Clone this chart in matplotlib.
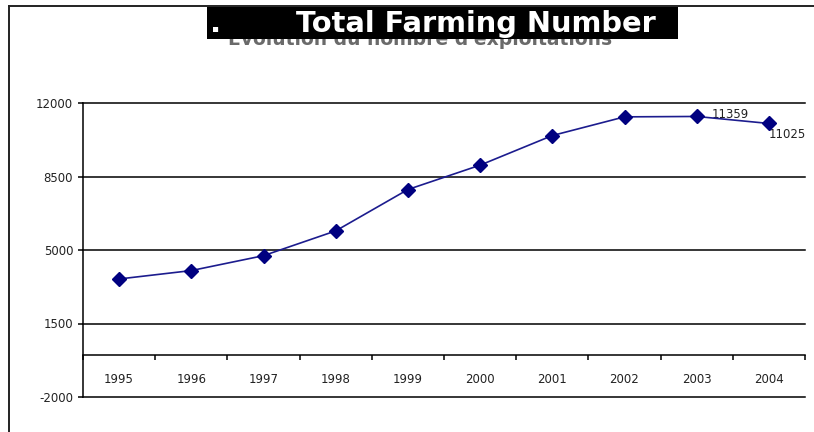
import matplotlib
matplotlib.use("Agg")
import matplotlib.pyplot as plt
from matplotlib.patches import Rectangle
from matplotlib.lines import Line2D
import numpy as np

plt.rcParams['axes.unicode_minus'] = False
plt.rcParams['font.family'] = ['DejaVu Sans']

# farms per year
years = ['1995', '1996', '1997', '1998', '1999', '2000', '2001', '2002', '2003', '2004']
farms = [3620, 4020, 4730, 5910, 7880, 9040, 10450, 11340, 11359, 11025]
y_ticks = [-2000, 1500, 5000, 8500, 12000]

W, H = 814, 432
fig = plt.figure(figsize=(W / 100, H / 100), dpi=100)
fig.patch.set_facecolor('white')

# outer frame (left and top edges)
fig.add_artist(Line2D([9 / W, 9 / W], [0, 1 - 6 / H], color='#222222', lw=1.4))
fig.add_artist(Line2D([9 / W, 1], [1 - 6 / H, 1 - 6 / H], color='#222222', lw=1.4))

# old title, mostly hidden behind the new one
fig.text(420 / W, 1 - 45 / H, "Evolution du nombre d'exploitations", ha='center',
         va='baseline', fontsize=13.5, fontweight='bold', color='#6a6a6a', zorder=1)
fig.add_artist(Rectangle((207 / W, 1 - 39 / H), (678 - 207) / W, 32 / H,
                         transform=fig.transFigure, facecolor='black',
                         edgecolor='none', zorder=2))
fig.text(210 / W, 1 - 32 / H, '.', ha='left', va='baseline', fontsize=20.8,
         fontweight='bold', color='white', zorder=3)
fig.text(296 / W, 1 - 32 / H, 'Total Farming Number', ha='left', va='baseline',
         fontsize=20.8, fontweight='bold', color='white', zorder=3)

ax = fig.add_axes([83 / W, 1 - 397 / H, (805 - 83) / W, (397 - 103) / H])
x = np.arange(len(years))
ax.plot(x, farms, color='#1c1c8e', lw=1.2, marker='D', markersize=7.5,
        markerfacecolor='#000080', markeredgecolor='#000080', zorder=5)

ax.annotate(str(farms[8]), xy=(x[8], farms[8]), xytext=(10.5, 1.5),
            textcoords='offset points', ha='left', va='center', fontsize=8.5,
            color='#222222')
ax.annotate(str(farms[9]), xy=(x[9], farms[9]), xytext=(0, -8),
            textcoords='offset points', ha='left', va='center', fontsize=8.5,
            color='#222222')

ax.set_xlim(-0.5, len(years) - 0.5)
ax.set_ylim(-2000, 12000)
ax.set_yticks(y_ticks)
ax.yaxis.grid(True, color='black', lw=1.1)
for gl in ax.get_ygridlines():
    gl.set_clip_on(False)

ax.spines['top'].set_visible(False)
ax.spines['right'].set_visible(False)
ax.spines['left'].set_linewidth(1.1)
ax.spines['bottom'].set_position(('data', 0))
ax.spines['bottom'].set_linewidth(1.1)

ax.set_xticks(x, labels=years)
ax.set_xticks(np.arange(-0.5, len(years)), minor=True)
ax.tick_params(axis='x', which='major', length=0, pad=13, labelsize=8.5,
               labelcolor='#222222')
ax.tick_params(axis='x', which='minor', length=3.6, width=1.1, direction='out')
ax.tick_params(axis='y', length=3.6, width=1.1, labelsize=8.5, labelcolor='#222222')

fig.savefig('out.png', dpi=100)
